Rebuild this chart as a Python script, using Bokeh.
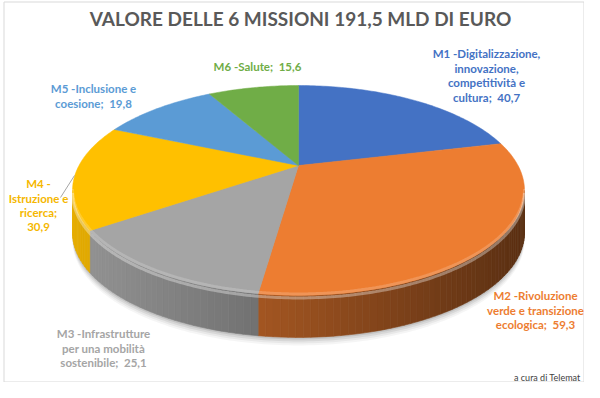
import numpy as np
from bokeh.plotting import figure
from bokeh.models import Range1d
from bokeh.core.properties import value
from bokeh.embed import file_html
from bokeh.resources import INLINE

# ---------------- data ----------------
title = "VALORE DELLE 6 MISSIONI 191,5 MLD DI EURO"
names = [
    "M1 -Digitalizzazione,\ninnovazione,\ncompetitività e\ncultura",
    "M2 -Rivoluzione\nverde e transizione\necologica",
    "M3 -Infrastrutture\nper una mobilità\nsostenibile",
    "M4 -\nIstruzione e\nricerca",
    "M5 -Inclusione e\ncoesione",
    "M6 -Salute",
]
values = [40.7, 59.3, 25.1, 30.9, 19.8, 15.6]
separators = [";\u00a0 ", ";\u00a0 ", ";\u00a0 ", ";\n", ";\u00a0 ", ";\u00a0 "]
colors = ["#4472C4", "#ED7D31", "#A5A5A5", "#FFC000", "#5B9BD5", "#70AD47"]
label_colors = ["#4472C4", "#ED7D31", "#A5A5A5", "#F5B700", "#5B9BD5", "#70AD47"]
credit = "a cura di Telemat"

# ---------------- layout / style ----------------
W, H = 584, 382
CX, CY = 298.0, 165.0         # projected centre of the pie
A, B, C = 219.5, 99.0, 0.238  # half-axes and perspective factor
D = 42.0                      # wall depth
label_pos = [(486, 53), (535, 295), (103, 333), (38, 183), (93, 88), (257, 66)]
LINE_H = 14.6
FONT = "Lato"


def proj(theta_deg, dy=0.0):
    t = np.radians(theta_deg)
    u, v = np.sin(t), np.cos(t)
    s = 1.0 / (1.0 + C * v)
    return CX + A * u * s, CY - B * v * s + dy


def hex_to_rgb(h):
    h = h.lstrip("#")
    return tuple(int(h[i:i + 2], 16) for i in (0, 2, 4))


def shade(h, f):
    r, g, b = hex_to_rgb(h)
    return "#%02x%02x%02x" % (int(min(255, r * f)), int(min(255, g * f)), int(min(255, b * f)))


p = figure(width=W, height=H, x_range=Range1d(0, W), y_range=Range1d(H, 0),
           output_backend="svg", toolbar_location=None, min_border=0,
           x_axis_type=None, y_axis_type=None)
p.grid.visible = False
p.outline_line_color = None
p.background_fill_color = "white"
p.border_fill_color = "white"

# frame
p.quad(left=[3.5], right=[W - 0.5], top=[1.5], bottom=[H - 0.5],
       fill_color=None, line_color="#d9d9d9", line_width=1)

total = sum(values)
bounds = np.concatenate([[0.0], np.cumsum(values) / total * 360.0])

# shadow under the pie
th = np.linspace(0, 360, 361)
for off, al in [(8, 0.04), (6, 0.05), (4, 0.07), (2, 0.09)]:
    sx, sy = proj(th, D + off)
    p.patch(sx, sy, fill_color="#000000", fill_alpha=al, line_color=None)

# visible wall range
t_left = 360 - np.degrees(np.arccos(-C))
t_right = np.degrees(np.arccos(-C))

wall_xs, wall_ys, wall_cols = [], [], []
for i in range(len(values)):
    t0, t1 = max(bounds[i], t_right), min(bounds[i + 1], t_left)
    if t1 <= t0:
        continue
    steps = np.linspace(t0, t1, max(2, int((t1 - t0) / 1.5) + 1))
    for a0, a1 in zip(steps[:-1], steps[1:]):
        x0, y0 = proj(a0)
        x1, y1 = proj(a1)
        xm = (x0 + x1) / 2
        f = 0.9 - 0.00115 * (xm - 75)
        wall_xs.append([x0, x1, x1, x0])
        wall_ys.append([y0, y1, y1 + D, y0 + D])
        wall_cols.append(shade(colors[i], f))
p.patches(wall_xs, wall_ys, fill_color=wall_cols, line_color=wall_cols, line_width=0.6)

# top faces
for i in range(len(values)):
    ts = np.linspace(bounds[i], bounds[i + 1], int(bounds[i + 1] - bounds[i]) + 2)
    ex, ey = proj(ts)
    xs = np.concatenate([[CX], ex])
    ys = np.concatenate([[CY], ey])
    p.patch(xs, ys, fill_color=colors[i], line_color=colors[i], line_width=0.5)

# bevel highlight along the front rim
tf = np.linspace(t_right, t_left, 200)
bx, by = proj(tf, 2.5)
p.line(bx, by, line_color="white", line_alpha=0.35, line_width=3)
bx, by = proj(tf, -1.5)
p.line(bx, by, line_color="white", line_alpha=0.18, line_width=3)

# title
p.text(x=[300], y=[18], text=[title], text_font=value(FONT), text_font_style="bold",
       text_font_size="19px", text_color="#595959", text_align="center", text_baseline="middle")

# labels
for i in range(len(values)):
    lbl = names[i] + separators[i] + ("%.1f" % values[i]).replace(".", ",")
    lx, ly = label_pos[i]
    for k, line in enumerate(lbl.split("\n")):
        p.text(x=[lx], y=[ly + k * LINE_H], text=[line], text_font=value(FONT),
               text_font_style="bold", text_font_size="11.5px", text_color=label_colors[i],
               text_align="center", text_baseline="middle")

# leader line for M4
p.line([74, 60], [175, 197], line_color="#a6a6a6", line_width=1)

# credit
p.text(x=[580], y=[377], text=[credit], text_font=value(FONT), text_font_size="9px",
       text_color="#404040", text_align="right", text_baseline="middle")

open("out.html", "w").write(file_html(p, INLINE))
